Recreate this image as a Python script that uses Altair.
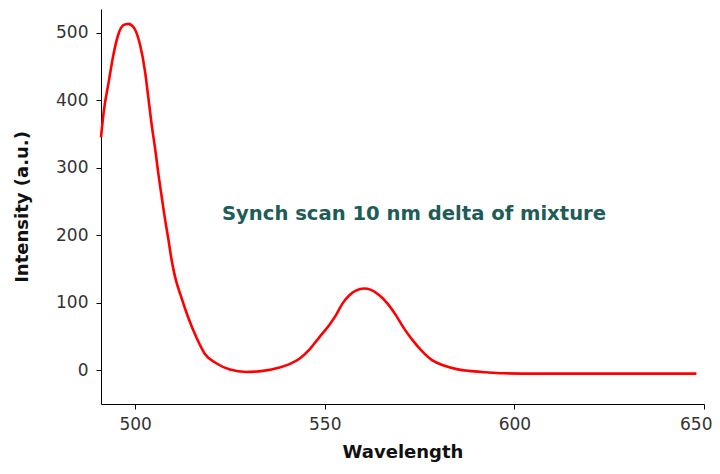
import altair as alt
import pandas as pd

wavelength = [491.0, 491.7, 493.0, 494.3, 495.6, 496.9, 498.2, 499.6, 501.3, 502.6, 503.5,
              504.4, 505.3, 506.1, 507.0, 507.9, 508.8, 509.6, 510.5, 512.3, 514.0,
              516.2, 518.4, 521.5, 525.0, 529.3, 533.7, 538.1, 540.7, 543.3, 546.0,
              548.6, 551.2, 553.0, 554.7, 556.5, 558.2, 560.4, 562.2, 564.4, 566.5,
              568.7, 570.9, 573.1, 575.7, 578.3, 581.4, 584.5, 588.0, 592.4, 597.0,
              605.0, 620.0, 635.0, 648.0]
intensity = [345, 382, 426, 468, 498, 511, 513, 508, 482, 443, 403,
             362, 327, 292, 257, 223, 193, 164, 139, 106, 78,
             48, 24, 10, 1, -2.5, -1, 4, 9, 17, 31,
             49, 67, 82, 99, 111, 118, 121, 119, 111, 99,
             82, 62, 45, 28, 15, 7, 2, -1, -3, -4.5,
             -5, -5, -5, -5]

note_text = ["Synch scan 10 nm delta of mixture"]
note_x = [522.9]
note_y = [232]

x_ticks = [500, 550, 600, 650]
y_ticks = [0, 100, 200, 300, 400, 500]

df = pd.DataFrame({"Wavelength": wavelength, "Intensity": intensity})
notes = pd.DataFrame({"text": note_text, "x": note_x, "y": note_y})

FONT = "DejaVu Sans"

x_scale = alt.Scale(domain=[491, 650], nice=False, zero=False)
y_scale = alt.Scale(domain=[-50, 535], nice=False, zero=False)

line = alt.Chart(df).mark_line(color="#ff0000", strokeWidth=2.6, interpolate="monotone").encode(
    x=alt.X("Wavelength:Q", scale=x_scale,
            axis=alt.Axis(title="Wavelength", values=x_ticks, grid=False, domainColor="black",
                          tickColor="black", tickSize=5, labelPadding=7, labelFontSize=17,
                          labelColor="#333333", labelFont=FONT, titleFont=FONT, titleFontSize=18,
                          titleFontWeight="bold", titleColor="#111111", titlePadding=11,
                          labelFlush=20, labelFlushOffset=8)),
    y=alt.Y("Intensity:Q", scale=y_scale,
            axis=alt.Axis(title="Intensity (a.u.)", values=y_ticks, grid=False, domainColor="black",
                          tickColor="black", tickSize=5, labelPadding=8, labelFontSize=17,
                          labelColor="#333333", labelFont=FONT, titleFont=FONT, titleFontSize=18,
                          titleFontWeight="bold", titleColor="#111111", titlePadding=24)),
)

text = alt.Chart(notes).mark_text(align="left", baseline="middle", font=FONT, fontSize=19.6,
                                  fontWeight="bold", color="#1d5c57").encode(
    x=alt.X("x:Q", scale=x_scale),
    y=alt.Y("y:Q", scale=y_scale),
    text="text:N",
)

chart = alt.layer(line, text).properties(
    width=603, height=395,
    autosize=alt.AutoSizeParams(type="none"),
    padding={"left": 93, "top": 1, "right": 8, "bottom": 62},
).configure(background="white").configure_view(stroke=None)

chart.save("out.html", embed_options={"renderer": "svg", "actions": False})
